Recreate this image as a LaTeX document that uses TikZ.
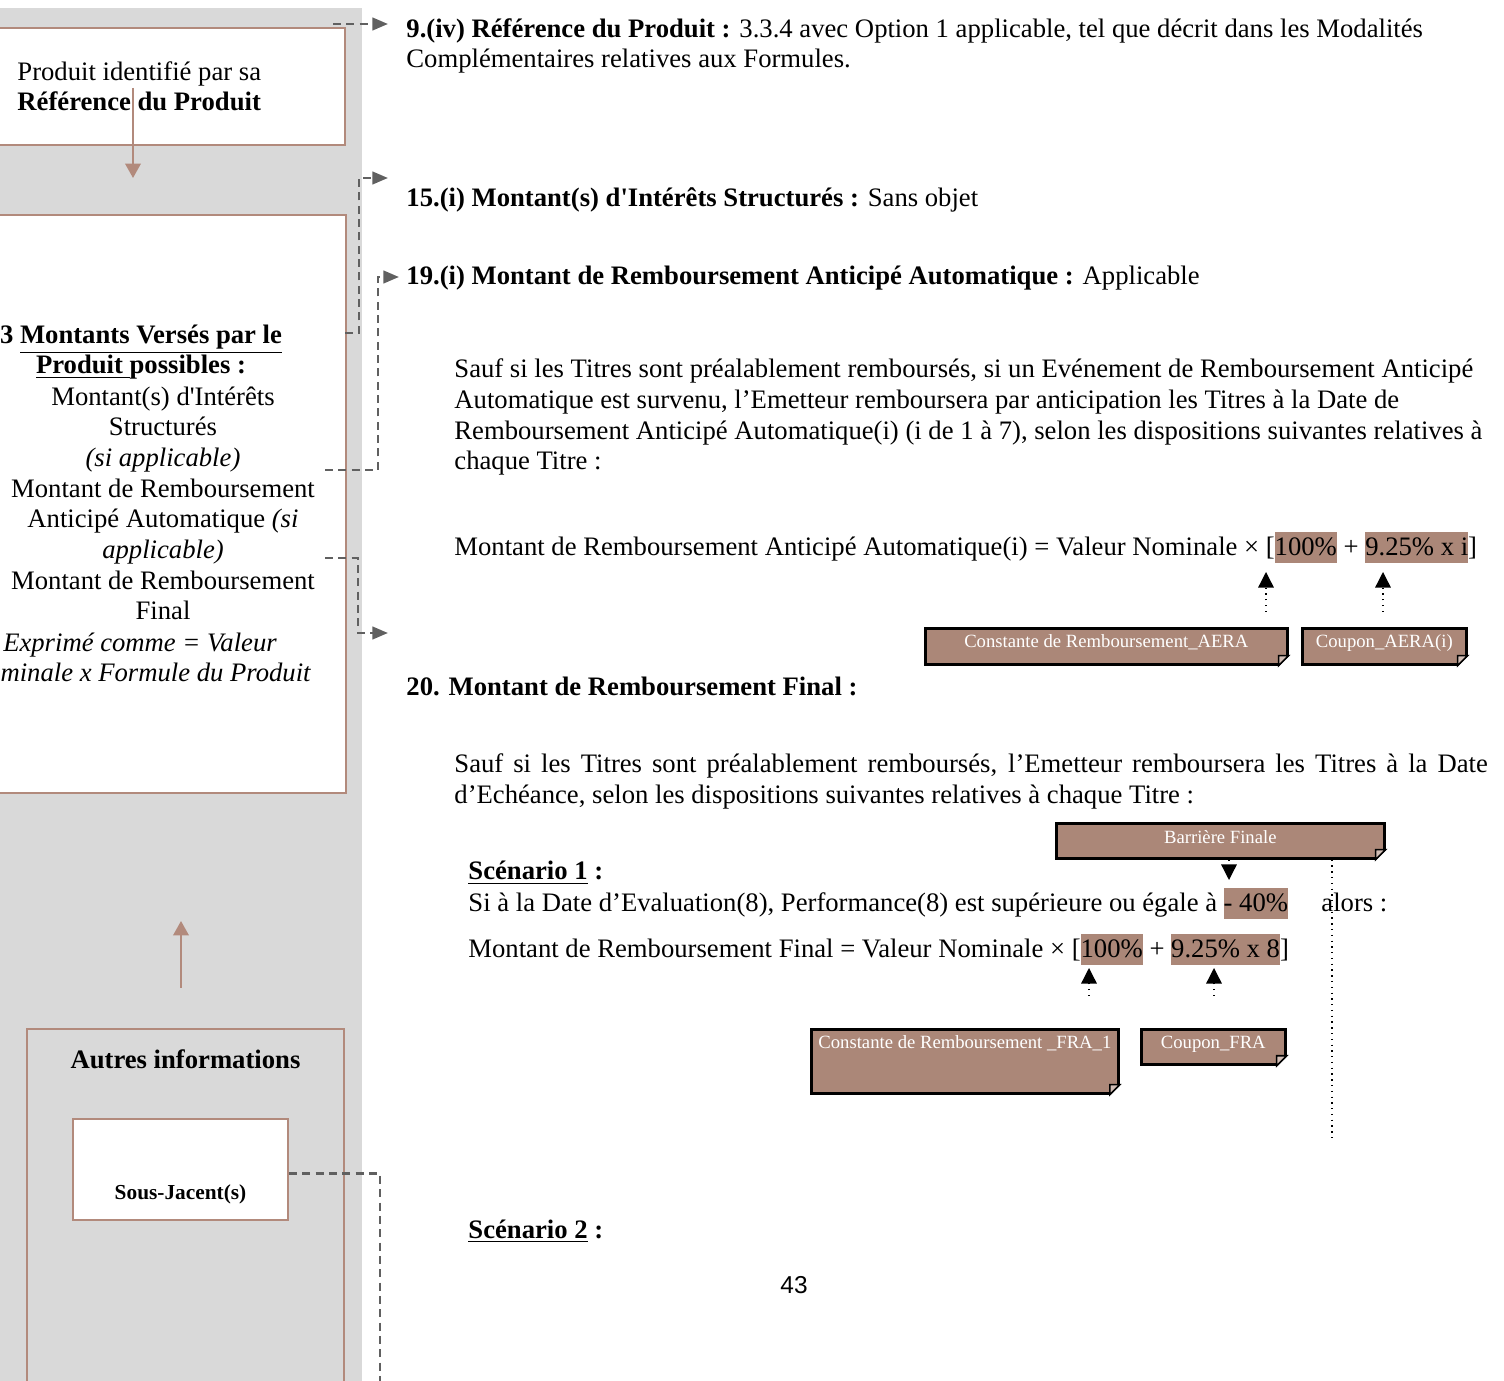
\documentclass[tikz,border=0pt]{standalone}
\usepackage{fontspec}
\setmainfont{Liberation Serif}[Ligatures=TeXOff]
\newfontfamily\pagefont{Liberation Sans}
\usepackage{xcolor}
\usepackage{tikz}
\usetikzlibrary{shapes,arrows,arrows.meta}
\definecolor{hlbrown}{RGB}{171,135,120}
\definecolor{linebrown}{RGB}{178,138,124}
\definecolor{panelgray}{RGB}{217,217,217}
\definecolor{linkgray}{RGB}{96,96,96}
\newcommand{\hlbox}[1]{{\setlength{\fboxsep}{0pt}\colorbox{hlbrown}{\rule[-3.2pt]{0pt}{14pt}#1}}}

\begin{document}
\begin{tikzpicture}[auto, x=0.45pt, y=-0.45pt, every node/.style={font=\fontsize{12}{13.8}\selectfont, inner sep=0pt}]
    \tikzstyle{block} = [draw=linebrown, shape=rectangle, line width=0.9pt, fill=white, anchor=north west]
    \tikzstyle{note} = [draw=black, fill=hlbrown, line width=1.2pt, text=white, anchor=north west, font=\fontsize{8.4}{10}\selectfont, text height=8.6pt, text depth=7.6pt]
    \tikzstyle{txt} = [anchor=base west, align=left]
    \tikzstyle{dashlink} = [linkgray, line width=1.2pt, dash pattern=on 3.6pt off 2.4pt, -{Triangle[length=7pt,width=5.6pt]}]
    \tikzstyle{dotlink} = [black, line width=0.6pt, dotted, -{Triangle[length=7pt,width=7pt]}]
    \tikzstyle{brownlink} = [linebrown, line width=0.9pt, -{Triangle[length=6.5pt,width=7pt]}]
    \useasboundingbox (0,0) rectangle (1504,1381);
    \clip (0,0) rectangle (1504,1381);
    \fill[panelgray] (0,8) rectangle (362,1381);
    %Left column (multi-line nodes sit on their last baseline)
    \node [block, minimum width=157pt, minimum height=52.7pt] at (-5,27) (refbox) {};
    \node [txt] at (17,111) (reftext) {Produit identifié par sa\\\textbf{Référence du Produit}};
    \node [block, minimum width=157.5pt, minimum height=260pt] at (-5,214) (montbox) {};
    \node [anchor=base, align=center, font=\fontsize{12}{13.8}\selectfont\bfseries] at (141,374) (monttitle) {3 \underline{Montants Versés par le}\\\underline{Produit }possibles :};
    \node [anchor=base, align=center] at (163,620) (montlist) {Montant(s) d'Intérêts\\Structurés\\\textit{(si applicable)}\\Montant de Remboursement\\Anticipé Automatique \textit{(si}\\\textit{applicable)}\\Montant de Remboursement\\Final};
    \node [anchor=base, align=center, font=\fontsize{12}{13.8}\selectfont\itshape] at (140,682) (montform) {Exprimé comme = Valeur\\Nominale x Formule du Produit};
    \node [block, fill=panelgray, anchor=north, minimum width=142.7pt, text height=17.6pt, text depth=158.8pt, font=\fontsize{12}{13.8}\selectfont\bfseries] at (185.5,1028) (autres) {Autres informations};
    \node [block, anchor=north, minimum width=96.8pt, text height=36pt, text depth=9.4pt, font=\fontsize{9.6}{11}\selectfont\bfseries] at (180.5,1118) (sousjacent) {Sous-Jacent(s)};
    %Right column
    \node [txt] at (406,68) (item9) {\textbf{9.(iv) Référence du Produit :} 3.3.4 avec Option 1 applicable, tel que décrit dans les Modalités\\Complémentaires relatives aux Formules.};
    \node [txt] at (406,207) (item15) {\textbf{15.(i) Montant(s) d'Intérêts Structurés :} Sans objet};
    \node [txt] at (406,285) (item19) {\textbf{19.(i) Montant de Remboursement Anticipé Automatique :} Applicable};
    \node [txt] at (454,470) (para19) {Sauf si les Titres sont préalablement remboursés, si un Evénement de Remboursement Anticipé\\Automatique est survenu, l’Emetteur remboursera par anticipation les Titres à la Date de\\Remboursement Anticipé Automatique(i) (i de 1 à 7), selon les dispositions suivantes relatives à\\chaque Titre :};
    \node [txt] at (454,556) (formAERA) {Montant de Remboursement Anticipé Automatique(i) = Valeur Nominale × [\hlbox{100\%} + \hlbox{9.25\% x i}]};
    \node [note, minimum width=162.9pt] at (924,627) (constAERA) {Constante de Remboursement\_AERA};
    \node [note, minimum width=73.8pt] at (1301,627) (coupAERA) {Coupon\_AERA(i)};
    \node [txt] at (406,696) (item20) {\textbf{20. Montant de Remboursement Final :}};
    \node [anchor=base west, text width=465pt, align=justify] at (454,773) (para20) {Sauf si les Titres sont préalablement remboursés, l’Emetteur remboursera les Titres à la Date\linebreak d’Echéance, selon les dispositions suivantes relatives à chaque Titre :};
    \node [note, minimum width=147.6pt, text height=9pt, text depth=6.75pt] at (1055,822) (barriere) {Barrière Finale};
    \node [txt] at (468,880) (scen1) {\textbf{\underline{Scénario 1} :}};
    \node [txt] at (468,912) (cond1) {Si à la Date d’Evaluation(8), Performance(8) est supérieure ou égale à \hlbox{- 40\%}\hspace{15pt}alors :};
    \node [txt] at (468,958) (formFRA) {Montant de Remboursement Final = Valeur Nominale × [\hlbox{100\%} + \hlbox{9.25\% x 8}]};
    \node [note, minimum width=138.2pt, text depth=20.2pt] at (810,1028) (constFRA) {Constante de Remboursement \_FRA\_1};
    \node [note, minimum width=64.8pt, text depth=7.2pt] at (1140,1028) (coupFRA) {Coupon\_FRA};
    \node [txt] at (468,1238) (scen2) {\textbf{\underline{Scénario 2} :}};
    \node [anchor=base, font=\pagefont\fontsize{11}{13}\selectfont] at (794,1293) (pagenum) {43};
    %Connection points
    \coordinate (c9s) at (333,24);   \coordinate (c9e) at (388,24);
    \coordinate (c15s) at (345,333); \coordinate (c15e) at (388,178);
    \coordinate (c19s) at (325,470); \coordinate (c19e) at (399,277);
    \coordinate (c20s) at (325,558); \coordinate (c20e) at (388,633);
    \coordinate (sjend) at (380,1400);
    \coordinate (refstart) at (133,88); \coordinate (reftip) at (133,178);
    \coordinate (autstart) at (181,988); \coordinate (auttip) at (181,921);
    \coordinate (aeraA) at (1266,612); \coordinate (aeraAtip) at (1266,572);
    \coordinate (aeraB) at (1383,612); \coordinate (aeraBtip) at (1383,572);
    \coordinate (fraA) at (1089,996); \coordinate (fraAtip) at (1089,968);
    \coordinate (fraB) at (1214,996); \coordinate (fraBtip) at (1214,968);
    \coordinate (barrtip) at (1229,880); \coordinate (barrend) at (1332,1140);
    %Connecting blocks
    \draw[brownlink] (refstart) -- (reftip);
    \draw[brownlink] (autstart) -- (auttip);
    \draw[dashlink] (c9s) -- (c9e);
    \draw[dashlink] (c15s) -- ++(14,0) |- (c15e);
    \draw[dashlink] (c19s) -- ++(53,0) |- (c19e);
    \draw[dashlink] (c20s) -- ++(33,0) |- (c20e);
    \draw[linkgray, line width=1.2pt, dash pattern=on 3.6pt off 2.4pt] ([yshift=-1.8pt]sousjacent.east) -| (sjend);
    \draw[dotlink] (aeraA) -- (aeraAtip);
    \draw[dotlink] (aeraB) -- (aeraBtip);
    \draw[dotlink] (fraA) -- (fraAtip);
    \draw[dotlink] (fraB) -- (fraBtip);
    \draw[dotlink] (barriere.south -| barrtip) -- (barrtip);
    \draw[black, line width=0.6pt, dotted] (barriere.south -| barrend) -- (barrend);
    %Folded corners
    \foreach \n in {constAERA,coupAERA,barriere,constFRA,coupFRA}{
        \fill[white] ([shift={(-5pt,-1pt)}]\n.south east) -- ([shift={(1pt,-1pt)}]\n.south east) -- ([shift={(1pt,5pt)}]\n.south east) -- cycle;
        \filldraw[fill=hlbrown!55!white, draw=black, line width=0.7pt] ([xshift=-4.5pt]\n.south east) -- ([yshift=4.5pt]\n.south east) -- ([shift={(-4.5pt,4.5pt)}]\n.south east) -- cycle;
    }
\end{tikzpicture}
\end{document}
